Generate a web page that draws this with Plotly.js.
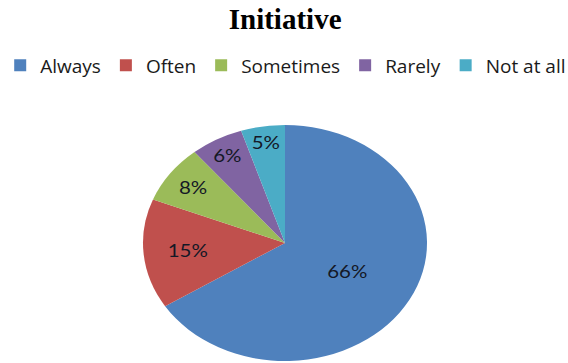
<!DOCTYPE html>
<html>
<head>
<meta charset="utf-8">
<script src="https://cdn.plot.ly/plotly-3.0.1.min.js"></script>
<style>
  html, body { margin: 0; padding: 0; background: #fff; }
  #chart { width: 568px; height: 363px; }
</style>
</head>
<body>
<div id="chart"></div>
<script>
const categories = ["Always", "Often", "Sometimes", "Rarely", "Not at all"];
const values = [66, 15, 8, 6, 5];
const colors = ["#4F81BD", "#C0504D", "#9BBB59", "#8064A2", "#4BACC6"];
const chartTitle = "Initiative";

const trace = {
  type: "pie",
  labels: categories,
  values: values,
  sort: false,
  direction: "clockwise",
  rotation: 0,
  marker: { colors: colors, line: { width: 0 } },
  textinfo: "percent",
  texttemplate: "%{percent:.0%}",
  textposition: "inside",
  insidetextorientation: "horizontal",
  insidetextfont: { family: "Lato, 'Open Sans', sans-serif", size: 17, color: "#141826" },
  hoverinfo: "none"
};

const layout = {
  width: 568,
  height: 363,
  margin: { l: 2, r: 0, t: 125, b: 2 },
  paper_bgcolor: "#ffffff",
  plot_bgcolor: "#ffffff",
  title: {
    text: "<b>" + chartTitle + "</b>",
    font: { family: "'Liberation Serif', 'Times New Roman', serif", size: 29, color: "#000000" },
    xref: "container", x: 0.502, xanchor: "center",
    yref: "container", y: 0.948, yanchor: "middle"
  },
  showlegend: true,
  legend: {
    orientation: "h",
    xref: "container", x: 0.503, xanchor: "center",
    yref: "container", y: 0.82, yanchor: "middle",
    font: { family: "'Open Sans', sans-serif", size: 19, color: "#1a1a1a" },
    traceorder: "normal"
  },
  hovermode: false
};

const gd = document.getElementById("chart");
Plotly.newPlot(gd, [trace], layout, { displayModeBar: false, staticPlot: true }).then(function () {
  // The reference pie is horizontally stretched into an ellipse.
  const cd0 = gd.calcdata[0][0];
  const s = 142 / 118;
  const cx = cd0.cx;
  const layer = gd.querySelector(".pielayer");
  if (layer) {
    layer.setAttribute("transform", "matrix(" + s + ",0,0,1," + (cx * (1 - s)) + ",0)");
  }
});
</script>
</body>
</html>
